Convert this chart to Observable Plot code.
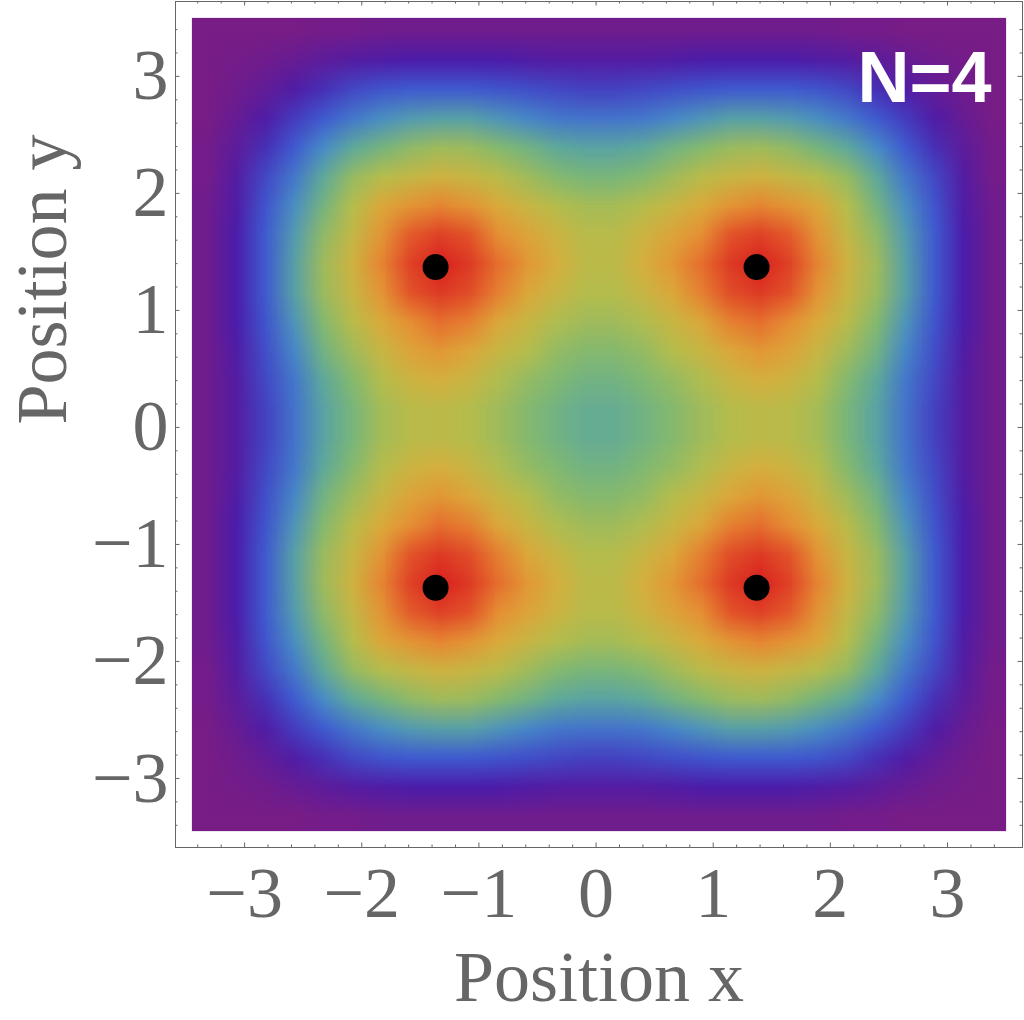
<!DOCTYPE html>
<html>
<head>
<meta charset="utf-8">
<script src="https://cdn.jsdelivr.net/npm/d3@7"></script>
<script src="https://cdn.jsdelivr.net/npm/@observablehq/plot@0.6"></script>
<style>
  html, body { margin: 0; padding: 0; background: #ffffff; }
  #chart { width: 1024px; height: 1020px; }
</style>
</head>
<body>
<div id="chart"></div>
<script>
// Colour-map position (0 = edge purple ... 1 = peak red)
// for one quadrant, at cell centres |x|,|y| = 0.125, 0.375, ..., 3.375.
// Row = |y|, column = |x|.
const quadrant = [
  [0.42, 0.46, 0.51, 0.56, 0.60, 0.62, 0.61, 0.57, 0.48, 0.38, 0.25, 0.16, 0.08, 0.02],
  [0.46, 0.50, 0.54, 0.59, 0.65, 0.69, 0.66, 0.60, 0.51, 0.40, 0.26, 0.17, 0.08, 0.02],
  [0.51, 0.54, 0.60, 0.65, 0.72, 0.77, 0.73, 0.65, 0.56, 0.46, 0.29, 0.18, 0.09, 0.02],
  [0.56, 0.59, 0.65, 0.72, 0.83, 0.87, 0.80, 0.71, 0.61, 0.51, 0.33, 0.19, 0.10, 0.02],
  [0.60, 0.65, 0.72, 0.83, 0.93, 0.96, 0.92, 0.78, 0.65, 0.55, 0.37, 0.20, 0.10, 0.02],
  [0.62, 0.69, 0.77, 0.87, 0.96, 1.00, 0.95, 0.82, 0.67, 0.56, 0.37, 0.20, 0.10, 0.02],
  [0.61, 0.66, 0.73, 0.80, 0.92, 0.95, 0.91, 0.78, 0.64, 0.53, 0.35, 0.20, 0.10, 0.02],
  [0.57, 0.60, 0.65, 0.71, 0.78, 0.82, 0.78, 0.72, 0.60, 0.47, 0.31, 0.19, 0.09, 0.02],
  [0.48, 0.51, 0.56, 0.61, 0.65, 0.67, 0.64, 0.60, 0.54, 0.40, 0.26, 0.17, 0.08, 0.01],
  [0.38, 0.40, 0.46, 0.51, 0.55, 0.56, 0.53, 0.47, 0.40, 0.30, 0.20, 0.13, 0.06, 0.01],
  [0.25, 0.26, 0.29, 0.33, 0.37, 0.37, 0.35, 0.31, 0.26, 0.20, 0.15, 0.09, 0.04, 0.00],
  [0.16, 0.17, 0.18, 0.19, 0.20, 0.20, 0.20, 0.19, 0.17, 0.13, 0.09, 0.05, 0.02, 0.00],
  [0.08, 0.08, 0.09, 0.10, 0.10, 0.10, 0.10, 0.09, 0.08, 0.06, 0.04, 0.02, 0.01, 0.00],
  [0.02, 0.02, 0.02, 0.02, 0.02, 0.02, 0.02, 0.02, 0.01, 0.01, 0.00, 0.00, 0.00, 0.00]
];

// Extent of the coloured field
const fieldExtent = [-3.45, 3.5];

// Colour map (Rainbow)
const colorStops = [0, 0.1, 0.2, 0.3, 0.4, 0.5, 0.6, 0.7, 0.8, 0.9, 1.0];
const colorRange = ["#781c86", "#4b1daa", "#3f5bd0", "#488cc6", "#5fa99a", "#80b972",
                    "#b5bd4c", "#d9ad3c", "#e68e34", "#e4602b", "#d92120"];

// Particle positions (black dots)
const particleX = [-1.37, 1.37, -1.37, 1.37];
const particleY = [1.37, 1.37, -1.37, -1.37];

// Ticks
const majorTicks = [-3, -2, -1, 0, 1, 2, 3];
const tickLabels = ["\u22123", "\u22122", "\u22121", "0", "1", "2", "3"];
const minorTicks = [-3.4, -3.2, -2.8, -2.6, -2.4, -2.2, -1.8, -1.6, -1.4, -1.2,
                    -0.8, -0.6, -0.4, -0.2, 0.2, 0.4, 0.6, 0.8, 1.2, 1.4, 1.6, 1.8,
                    2.2, 2.4, 2.6, 2.8, 3.2, 3.4];

const xLabel = "Position x";
const yLabel = "Position y";
const panelLabel = "N=4";

// Build full grid by mirroring the quadrant (field symmetric in x and y)
const half = quadrant.length;
const order = [...d3.range(half - 1, -1, -1), ...d3.range(half)];
const grid = [];
for (const j of order) for (const i of order) grid.push(quadrant[j][i]);
const particles = particleX.map((x, i) => ({x, y: particleY[i]}));

const W = 1024, H = 1020;
const mL = 175, mR = 2, mT = 1, mB = 173;
const fw = W - mL - mR, fh = H - mT - mB;
const majorLen = 4.5, minorLen = 2.5;
const gray = "#666666";
const serif = "'Liberation Serif', 'Times New Roman', Times, serif";

const chart = Plot.plot({
  width: W,
  height: H,
  marginLeft: mL,
  marginRight: mR,
  marginTop: mT,
  marginBottom: mB,
  style: {background: "#ffffff"},
  x: {domain: [-3.59, 3.64], axis: null},
  y: {domain: [-3.59, 3.64], axis: null},
  color: {type: "linear", domain: colorStops, range: colorRange, interpolate: "rgb"},
  marks: [
    Plot.raster(grid, {
      width: 2 * half, height: 2 * half,
      x1: fieldExtent[0], x2: fieldExtent[1], y1: fieldExtent[0], y2: fieldExtent[1],
      fill: d => d
    }),
    Plot.dot(particles, {x: "x", y: "y", r: 13, fill: "black", stroke: null}),
    Plot.text([panelLabel], {
      frameAnchor: "top-right", textAnchor: "end", lineAnchor: "top",
      dx: -31, dy: 49, fill: "white", fontSize: 72, fontWeight: "bold",
      fontFamily: "'Liberation Sans', Arial, Helvetica, sans-serif"
    }),
    Plot.frame({stroke: gray, strokeWidth: 1}),
    // bottom ticks
    Plot.tickX(majorTicks, {x: d => d, insetTop: fh - majorLen, stroke: gray}),
    Plot.tickX(minorTicks, {x: d => d, insetTop: fh - minorLen, stroke: gray}),
    // top ticks
    Plot.tickX(majorTicks, {x: d => d, insetBottom: fh - majorLen, stroke: gray}),
    Plot.tickX(minorTicks, {x: d => d, insetBottom: fh - minorLen, stroke: gray}),
    // left ticks
    Plot.tickY(majorTicks, {y: d => d, insetRight: fw - majorLen, stroke: gray}),
    Plot.tickY(minorTicks, {y: d => d, insetRight: fw - minorLen, stroke: gray}),
    // right ticks
    Plot.tickY(majorTicks, {y: d => d, insetLeft: fw - majorLen, stroke: gray}),
    Plot.tickY(minorTicks, {y: d => d, insetLeft: fw - minorLen, stroke: gray}),
    // tick labels
    Plot.text(majorTicks, {
      x: d => d, text: (d, i) => tickLabels[i], frameAnchor: "bottom",
      lineAnchor: "top", dy: 18, fill: gray, fontSize: 72, fontFamily: serif
    }),
    Plot.text(majorTicks, {
      y: d => d, text: (d, i) => tickLabels[i], frameAnchor: "left",
      textAnchor: "end", lineAnchor: "middle", dx: -7, fill: gray, fontSize: 72, fontFamily: serif
    }),
    // axis labels
    Plot.text([xLabel], {
      frameAnchor: "bottom", lineAnchor: "middle", dy: 130,
      fill: gray, fontSize: 72, fontFamily: serif
    }),
    Plot.text([yLabel], {
      frameAnchor: "left", lineAnchor: "middle", rotate: -90, dx: -133,
      fill: gray, fontSize: 72, fontFamily: serif
    })
  ]
});

document.getElementById("chart").appendChild(chart);
</script>
</body>
</html>
